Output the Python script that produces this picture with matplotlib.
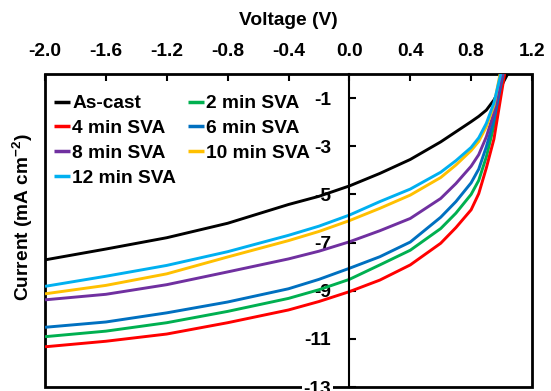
import matplotlib
matplotlib.use("Agg")
import matplotlib.pyplot as plt
from matplotlib.patches import Rectangle

plt.rcParams['font.family'] = ['Liberation Sans', 'DejaVu Sans']
plt.rcParams['font.weight'] = 'bold'
plt.rcParams['mathtext.fontset'] = 'custom'
plt.rcParams['mathtext.rm'] = 'Liberation Sans:bold'
plt.rcParams['mathtext.bf'] = 'Liberation Sans:bold'
plt.rcParams['mathtext.default'] = 'rm'

# ---- data ----
voltage = [-2.0, -1.6, -1.2, -0.8, -0.4, -0.2, 0.0, 0.2, 0.4, 0.6, 0.7, 0.8, 0.85, 0.9, 0.95]
labels = ["As-cast", "2 min SVA", "4 min SVA", "6 min SVA",
          "8 min SVA", "10 min SVA", "12 min SVA"]
colors = ["#000000", "#00B050", "#FF0000", "#0070C0",
          "#7030A0", "#FFC000", "#00B0F0"]
j_ascast = [-7.72, -7.27, -6.80, -6.20, -5.42, -5.08, -4.65, -4.13, -3.55, -2.82, -2.40, -1.98, -1.76, -1.50, -1.08]
j_2min   = [-10.91, -10.68, -10.33, -9.86, -9.32, -8.96, -8.53, -7.93, -7.32, -6.42, -5.78, -5.00, -4.42, -3.44, -2.15]
j_4min   = [-11.33, -11.10, -10.80, -10.33, -9.80, -9.45, -9.04, -8.56, -7.93, -7.03, -6.38, -5.64, -4.97, -3.90, -2.70]
j_6min   = [-10.52, -10.30, -9.92, -9.47, -8.92, -8.53, -8.07, -7.59, -6.98, -5.95, -5.30, -4.52, -3.95, -3.02, -1.90]
j_8min   = [-9.38, -9.15, -8.75, -8.22, -7.68, -7.36, -6.97, -6.51, -6.00, -5.17, -4.55, -3.83, -3.35, -2.61, -1.60]
j_10min  = [-9.13, -8.78, -8.30, -7.60, -6.92, -6.54, -6.09, -5.58, -5.03, -4.30, -3.78, -3.18, -2.80, -2.19, -1.30]
j_12min  = [-8.82, -8.40, -7.95, -7.38, -6.70, -6.32, -5.86, -5.30, -4.78, -4.08, -3.60, -3.05, -2.65, -2.05, -1.20]
voc = [1.04, 1.015, 1.02, 1.01, 1.005, 0.99, 0.995]   # voltage where J reaches 0

xticks = [-2.0, -1.6, -1.2, -0.8, -0.4, 0.0, 0.4, 0.8, 1.2]
xticklabels = ["-2.0", "-1.6", "-1.2", "-0.8", "-0.4", "0.0", "0.4", "0.8", "1.2"]
yticks = [-13, -11, -9, -7, -5, -3, -1]
yticklabels = ["-13", "-11", "-9", "-7", "-5", "-3", "-1"]

series = [j_ascast, j_2min, j_4min, j_6min, j_8min, j_10min, j_12min]

# ---- figure ----
W, H = 551, 391
fig = plt.figure(figsize=(W / 100, H / 100), dpi=100)
ax = fig.add_axes([45 / W, 1 - 387 / H, (532 - 45) / W, (387 - 74) / H])
ax.set_xlim(-2.0, 1.2)
ax.set_ylim(-13, 0)

handles = []
for j, c, lab, vo in zip(series, colors, labels, voc):
    h, = ax.plot(voltage + [vo], j + [0.0], color=c, lw=2.1, label=lab,
                 zorder=2, solid_capstyle='butt', solid_joinstyle='round')
    handles.append(h)

# frame
for s in ['top', 'right', 'bottom']:
    ax.spines[s].set_visible(False)
ax.add_patch(Rectangle((0, 0), 1, 1, transform=ax.transAxes, fill=False,
                       lw=2.0, edgecolor='black', zorder=1, clip_on=False))
ax.spines['left'].set_position(('data', 0))
ax.spines['left'].set_linewidth(1.5)
ax.spines['left'].set_zorder(2.5)

fs = 13.8
ax.xaxis.tick_top()
ax.xaxis.set_label_position('top')
ax.set_xticks(xticks, xticklabels)
ax.set_yticks(yticks, yticklabels)
ax.tick_params(axis='x', direction='in', length=5, width=1.5, pad=10,
               labelsize=fs)
ax.tick_params(axis='y', direction='in', length=5, width=1.5, pad=13,
               labelsize=fs)
for t in ax.get_yticklabels():
    if t.get_text() == "-13":
        t.set_bbox(dict(facecolor='white', edgecolor='none', pad=1))

ax.set_xlabel("Voltage (V)", fontsize=fs, fontweight='bold', labelpad=13)
ax.set_ylabel(r"Current (mA cm$^{-2}$)", fontsize=fs, fontweight='bold')
ax.yaxis.set_label_coords(-0.021, 0.543)

order = [0, 2, 4, 6, 1, 3, 5]
leg = ax.legend([handles[i] for i in order], [labels[i] for i in order],
                ncol=2, frameon=False, loc='upper left',
                bbox_to_anchor=(54 / W, 1 - 95 / H),
                bbox_transform=fig.transFigure, fontsize=fs,
                handlelength=0.85, handletextpad=0.1, columnspacing=0.6,
                labelspacing=0.38, borderpad=0, borderaxespad=0)
for line in leg.get_lines():
    line.set_linewidth(2.5)

fig.savefig("out.png", dpi=100)
